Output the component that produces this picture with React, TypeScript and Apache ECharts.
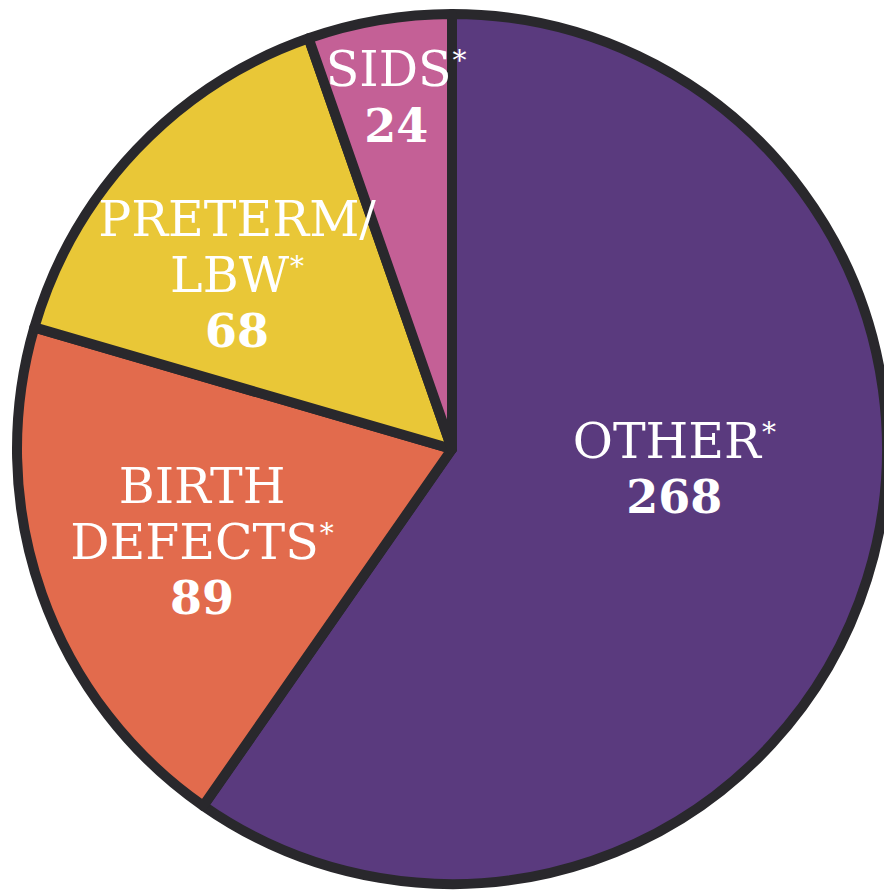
import React, { useEffect, useRef } from "react";
import * as echarts from "echarts";

const categories = ["OTHER", "BIRTH DEFECTS", "PRETERM/LBW", "SIDS"];
const values = [268, 89, 68, 24];
const labelLines = [["OTHER"], ["BIRTH", "DEFECTS"], ["PRETERM/", "LBW"], ["SIDS"]];
const colors = ["#5a3a7e", "#e26b4d", "#e9c737", "#c46096"];
const labelShift = [
  [12, -46],
  [-42, 20],
  [-55, -22],
  [-19, -134],
];

export default function App() {
  const ref = useRef<HTMLDivElement>(null);
  useEffect(() => {
    if (!ref.current) return;
    const chart = echarts.init(ref.current, null, { renderer: "svg" });
    chart.setOption({
      animation: false,
      backgroundColor: "#ffffff",
      series: [
        {
          type: "pie",
          center: [452, 449],
          radius: 435,
          startAngle: 90,
          clockwise: true,
          avoidLabelOverlap: false,
          silent: true,
          itemStyle: { borderColor: "#29282c", borderWidth: 10, borderJoin: "round" },
          label: {
            show: true,
            position: "inside",
            color: "#ffffff",
            formatter: (p: any) => {
              const lines = labelLines[p.dataIndex];
              const parts = lines.map((l, i) =>
                i === lines.length - 1 ? `{n|${l}}{s|*}` : `{n|${l}}`
              );
              parts.push(`{v|${p.value}}`);
              return parts.join("\n");
            },
            rich: {
              n: {
                fontFamily: "DejaVu Serif",
                fontSize: 49,
                fontWeight: "normal",
                color: "#ffffff",
                lineHeight: 56,
              },
              s: {
                fontFamily: "DejaVu Serif",
                fontSize: 28,
                color: "#ffffff",
                lineHeight: 28,
                verticalAlign: "top",
                padding: [5, 0, 0, 1],
              },
              v: {
                fontFamily: "DejaVu Serif",
                fontSize: 46,
                fontWeight: "bold",
                color: "#ffffff",
                lineHeight: 56,
              },
            },
          },
          labelLine: { show: false },
          labelLayout: (p: any) => ({
            dx: labelShift[p.dataIndex][0],
            dy: labelShift[p.dataIndex][1],
          }),
          data: categories.map((c, i) => ({
            name: c,
            value: values[i],
            itemStyle: { color: colors[i] },
          })),
        },
      ],
    });
    return () => chart.dispose();
  }, []);
  return (
    <div
      ref={ref}
      style={{ position: "absolute", left: 0, top: 0, width: 884, height: 890 }}
    />
  );
}
